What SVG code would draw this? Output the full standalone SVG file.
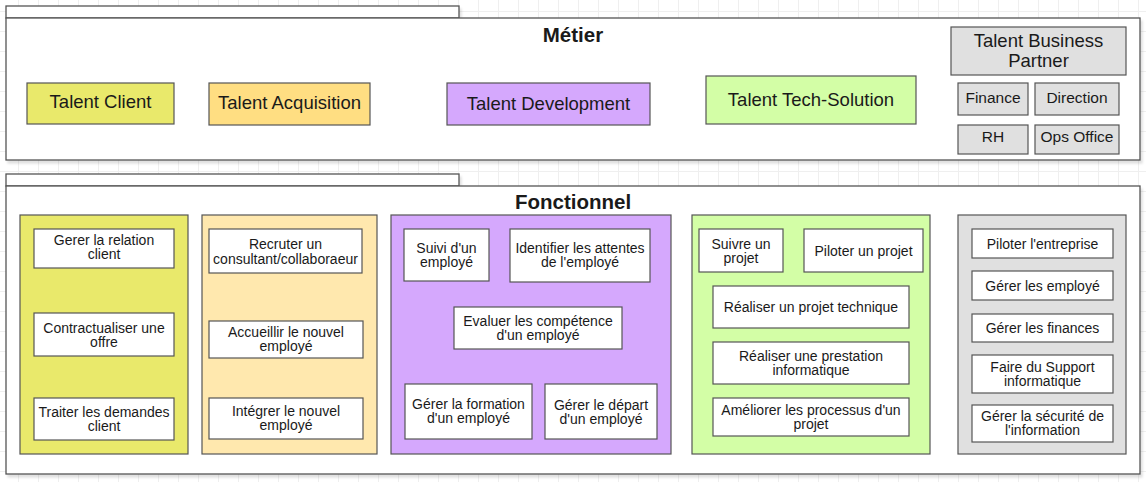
<svg xmlns="http://www.w3.org/2000/svg" width="1146" height="482" viewBox="0 0 1146 482">
<defs>
<pattern id="grid" x="0" y="0" width="20" height="20" patternUnits="userSpaceOnUse">
<path d="M18.5 0V20M0 11.5H20" stroke="#efefef" stroke-width="1" fill="none"/>
</pattern>
<filter id="sh" x="-5%" y="-5%" width="110%" height="115%">
<feDropShadow dx="2" dy="3" stdDeviation="1" flood-color="#000" flood-opacity="0.12"/>
</filter>
</defs>
<style>
.cont{fill:#fff;stroke:#555;stroke-width:1.3}
.box{stroke:#555;stroke-width:1.2}
.w{fill:#fff}
.yel{fill:#E9E96B}
.org{fill:#FFDE82}
.orgl{fill:#FFE8AE}
.pur{fill:#D5A8FD}
.grn{fill:#D3FEA6}
.gry{fill:#E0E0E0}
text{font-family:"Liberation Sans",Arial,sans-serif;fill:#1a1a1a;text-anchor:middle}
.t{font-size:20.5px;font-weight:bold}
.l{font-size:18.5px}
.m{font-size:15.5px}
.s{font-size:14px}
</style>
<rect width="1146" height="482" fill="#fff"/>
<rect width="1146" height="482" fill="url(#grid)"/>

<g id="metier" filter="url(#sh)">
<rect class="cont" x="6" y="6" width="453" height="12"/>
<rect class="cont" x="6" y="18" width="1134" height="142"/>
</g>
<text class="t" x="573" y="41.5">Métier</text>

<g id="talent-client"><rect class="box yel" x="27" y="83" width="147" height="41"/><text class="l" x="100.5" y="108">Talent Client</text></g>
<g id="talent-acquisition"><rect class="box org" x="209" y="83" width="161" height="42"/><text class="l" x="289.5" y="108.5">Talent Acquisition</text></g>
<g id="talent-development"><rect class="box pur" x="447" y="83" width="203" height="42"/><text class="l" x="548.5" y="110">Talent Development</text></g>
<g id="talent-tech"><rect class="box grn" x="706" y="76" width="210" height="48"/><text class="l" x="811" y="105.5">Talent Tech-Solution</text></g>
<g id="talent-bp"><rect class="box gry" x="951" y="27" width="175" height="48"/><text class="l" x="1038.5" y="46.5">Talent Business</text><text class="l" x="1038.5" y="66.5">Partner</text></g>
<g id="finance"><rect class="box gry" x="958" y="83" width="70" height="32"/><text class="m" x="993" y="103">Finance</text></g>
<g id="direction"><rect class="box gry" x="1035" y="83" width="84" height="32"/><text class="m" x="1077" y="103">Direction</text></g>
<g id="rh"><rect class="box gry" x="958" y="125" width="70" height="29"/><text class="m" x="993" y="142">RH</text></g>
<g id="ops-office"><rect class="box gry" x="1035" y="125" width="84" height="29"/><text class="m" x="1077" y="142">Ops Office</text></g>

<g id="fonctionnel" filter="url(#sh)">
<rect class="cont" x="6" y="174" width="453" height="12"/>
<rect class="cont" x="6" y="186" width="1134" height="288"/>
</g>
<text class="t" x="573" y="209">Fonctionnel</text>

<g id="col-client"><rect class="box yel" x="20" y="215" width="168" height="239"/></g>
<g id="gerer-relation"><rect class="box w" x="34" y="229" width="140" height="39"/><text class="s" x="104" y="245">Gerer la relation</text><text class="s" x="104" y="259">client</text></g>
<g id="contractualiser"><rect class="box w" x="34" y="313" width="140" height="43"/><text class="s" x="104" y="332.5">Contractualiser une</text><text class="s" x="104" y="346.5">offre</text></g>
<g id="traiter-demandes"><rect class="box w" x="34" y="398" width="140" height="42"/><text class="s" x="104" y="416.5">Traiter les demandes</text><text class="s" x="104" y="430.5">client</text></g>

<g id="col-acquisition"><rect class="box orgl" x="202" y="215" width="175" height="239"/></g>
<g id="recruter"><rect class="box w" x="209" y="229" width="153" height="44"/><text class="s" x="285.5" y="249">Recruter un</text><text class="s" x="285.5" y="263.5">consultant/collaboraeur</text></g>
<g id="accueillir"><rect class="box w" x="209" y="321" width="154" height="37"/><text class="s" x="286" y="336.5">Accueillir le nouvel</text><text class="s" x="286" y="350.5">employé</text></g>
<g id="integrer"><rect class="box w" x="209" y="398" width="154" height="41"/><text class="s" x="286" y="416">Intégrer le nouvel</text><text class="s" x="286" y="430">employé</text></g>

<g id="col-development"><rect class="box pur" x="391" y="215" width="280" height="239"/></g>
<g id="suivi-employe"><rect class="box w" x="404" y="229" width="85" height="52"/><text class="s" x="446.5" y="252.5">Suivi d'un</text><text class="s" x="446.5" y="267">employé</text></g>
<g id="identifier-attentes"><rect class="box w" x="510" y="229" width="140" height="53"/><text class="s" x="580" y="252.5">Identifier les attentes</text><text class="s" x="580" y="267">de l'employé</text></g>
<g id="evaluer"><rect class="box w" x="454" y="307" width="168" height="42"/><text class="s" x="538" y="325.5">Evaluer les compétence</text><text class="s" x="538" y="340">d'un employé</text></g>
<g id="formation"><rect class="box w" x="405" y="384" width="127" height="55"/><text class="s" x="468.5" y="409">Gérer la formation</text><text class="s" x="468.5" y="423">d'un employé</text></g>
<g id="depart"><rect class="box w" x="545" y="384" width="112" height="55"/><text class="s" x="601" y="409.5">Gérer le départ</text><text class="s" x="601" y="423.5">d'un employé</text></g>

<g id="col-tech"><rect class="box grn" x="692" y="215" width="238" height="239"/></g>
<g id="suivre-projet"><rect class="box w" x="699" y="229" width="84" height="43"/><text class="s" x="741" y="248.5">Suivre un</text><text class="s" x="741" y="262.5">projet</text></g>
<g id="piloter-projet"><rect class="box w" x="804" y="229" width="119" height="43"/><text class="s" x="863.5" y="255.5">Piloter un projet</text></g>
<g id="projet-technique"><rect class="box w" x="713" y="286" width="196" height="42"/><text class="s" x="811" y="311.5">Réaliser un projet technique</text></g>
<g id="prestation"><rect class="box w" x="713" y="342" width="196" height="42"/><text class="s" x="811" y="360.5">Réaliser une prestation</text><text class="s" x="811" y="374.5">informatique</text></g>
<g id="ameliorer"><rect class="box w" x="713" y="398" width="196" height="38"/><text class="s" x="811" y="414.5">Améliorer les processus d'un</text><text class="s" x="811" y="428.5">projet</text></g>

<g id="col-business"><rect class="box gry" x="958" y="215" width="168" height="239"/></g>
<g id="piloter-entreprise"><rect class="box w" x="972" y="229" width="141" height="29"/><text class="s" x="1042.5" y="248.5">Piloter l'entreprise</text></g>
<g id="gerer-employe"><rect class="box w" x="972" y="271" width="141" height="29"/><text class="s" x="1042.5" y="291">Gérer les employé</text></g>
<g id="gerer-finances"><rect class="box w" x="972" y="314" width="141" height="28"/><text class="s" x="1042.5" y="332.5">Gérer les finances</text></g>
<g id="support"><rect class="box w" x="972" y="355" width="141" height="38"/><text class="s" x="1042.5" y="371.5">Faire du Support</text><text class="s" x="1042.5" y="386">informatique</text></g>
<g id="securite"><rect class="box w" x="972" y="405" width="141" height="37"/><text class="s" x="1042.5" y="421">Gérer la sécurité de</text><text class="s" x="1042.5" y="435">l'information</text></g>
</svg>
